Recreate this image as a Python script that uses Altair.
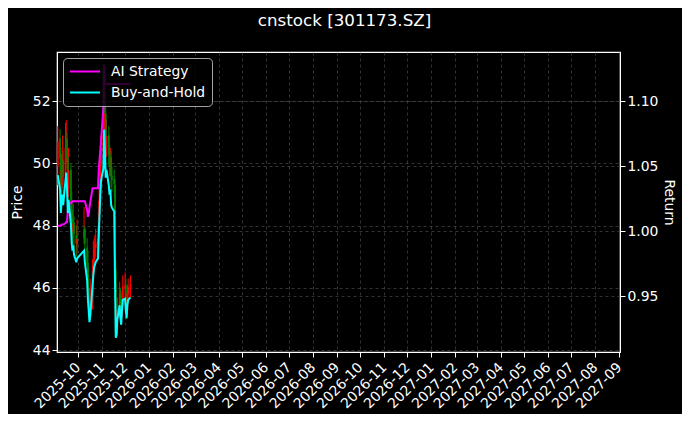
import altair as alt
import pandas as pd

dates = [
    "2025-09-05", "2025-09-08", "2025-09-09", "2025-09-10", "2025-09-11", "2025-09-12",
    "2025-09-15", "2025-09-16", "2025-09-17", "2025-09-18", "2025-09-19",
    "2025-09-22", "2025-09-23", "2025-09-24", "2025-09-25", "2025-09-26",
    "2025-09-29", "2025-09-30",
    "2025-10-09", "2025-10-10", "2025-10-13", "2025-10-14", "2025-10-15", "2025-10-16",
    "2025-10-17", "2025-10-20", "2025-10-21", "2025-10-22", "2025-10-23", "2025-10-24",
    "2025-10-27", "2025-10-28", "2025-10-29", "2025-10-30", "2025-10-31",
    "2025-11-03", "2025-11-04", "2025-11-05", "2025-11-06", "2025-11-07",
    "2025-11-10", "2025-11-11", "2025-11-12", "2025-11-13", "2025-11-14",
    "2025-11-17", "2025-11-18", "2025-11-19", "2025-11-20", "2025-11-21",
    "2025-11-24", "2025-11-25", "2025-11-26", "2025-11-27", "2025-11-28",
    "2025-12-01", "2025-12-02", "2025-12-03", "2025-12-04", "2025-12-05", "2025-12-08",
]

opens = [49.9, 50.8, 50.2, 49.2, 49.6, 50.1, 49.6, 50.4, 50.8, 50.2, 49.2,
         49.8, 48.8, 48.2, 47.8, 48.1, 47.7, 47.4,
         47.6, 47.9, 47.3, 46.8, 46.0, 45.6, 45.1, 45.5, 46.5, 46.9, 47.3, 47.3,
         47.4, 47.6, 48.4, 49.1, 49.9,
         50.4, 51.0, 52.3, 51.6, 50.5, 50.9, 50.3, 49.9, 50.2, 49.6,
         49.5, 49.3, 46.6, 44.6, 44.7, 45.3, 45.8, 45.3, 45.1, 45.6,
         46.0, 46.1, 45.6, 45.3, 45.8, 46.0]
highs = [51.2, 51.1, 50.5, 50.3, 50.9, 50.4, 51.3, 51.4, 51.0, 50.4, 50.5,
         50.0, 49.1, 48.5, 48.7, 48.3, 48.0, 48.2,
         48.6, 48.0, 47.6, 47.2, 46.4, 46.0, 46.3, 46.9, 47.5, 47.6, 47.7, 47.9,
         48.0, 48.8, 49.5, 50.4, 50.9,
         51.5, 53.1, 52.6, 51.9, 51.4, 51.2, 50.6, 50.5, 50.4, 49.9,
         49.8, 49.5, 46.9, 45.3, 45.7, 46.2, 46.0, 45.6, 45.9, 46.4,
         46.5, 46.3, 45.8, 46.1, 46.3, 46.4]
lows = [49.3, 49.6, 48.7, 48.9, 49.3, 49.0, 49.4, 50.0, 49.8, 48.8, 48.9,
        48.4, 47.5, 47.4, 47.6, 47.2, 47.0, 47.1,
        47.4, 47.0, 46.4, 45.7, 45.2, 44.9, 45.0, 45.3, 46.3, 46.6, 46.9, 47.0,
        47.1, 47.4, 48.1, 48.9, 49.5,
        50.0, 50.7, 51.2, 50.2, 50.2, 49.9, 49.6, 49.6, 49.2, 49.1,
        48.9, 46.4, 44.4, 44.4, 44.5, 45.1, 45.0, 44.8, 45.0, 45.4,
        45.7, 45.4, 45.0, 45.1, 45.6, 45.7]
closes = [50.69, 50.16, 49.28, 49.77, 49.96, 49.57, 50.50, 50.79, 50.16, 49.28, 49.77,
          48.84, 48.16, 47.87, 48.07, 47.73, 47.43, 47.58,
          47.87, 47.43, 46.75, 46.02, 45.64, 45.20, 45.44, 46.56, 46.95, 47.24, 47.34, 47.43,
          47.58, 48.45, 49.18, 49.96, 50.50,
          50.93, 52.39, 51.61, 50.59, 50.88, 50.30, 49.96, 50.16, 49.57, 49.47,
          49.33, 46.75, 44.61, 44.71, 45.30, 45.83, 45.34, 45.10, 45.64, 46.02,
          46.07, 45.64, 45.34, 45.83, 46.02, 46.12]

ai_strategy = [1.004, 1.004, 1.004, 1.005, 1.005, 1.005, 1.006, 1.007, 1.007, 1.016, 1.020,
               1.022, 1.022, 1.023, 1.023, 1.023, 1.023, 1.023,
               1.023, 1.023, 1.016, 1.011, 1.013, 1.018, 1.022, 1.033, 1.033, 1.033, 1.033, 1.033,
               1.033, 1.047, 1.055, 1.062, 1.070,
               1.095, 1.128, 1.113, 1.113, 1.113, 1.113, 1.113, 1.113, 1.113, 1.113,
               1.113, 1.113, 1.113, 1.113, 1.113, 1.113, 1.113, 1.113, 1.113, 1.113,
               1.113, 1.113, 1.113, 1.113, 1.113, 1.113]
buy_hold = [1.043, 1.032, 1.014, 1.024, 1.028, 1.020, 1.039, 1.045, 1.032, 1.014, 1.024,
            1.005, 0.991, 0.985, 0.989, 0.982, 0.976, 0.979,
            0.985, 0.976, 0.962, 0.947, 0.939, 0.930, 0.935, 0.958, 0.966, 0.972, 0.974, 0.976,
            0.979, 0.997, 1.012, 1.028, 1.039,
            1.048, 1.078, 1.062, 1.041, 1.047, 1.035, 1.028, 1.032, 1.020, 1.018,
            1.015, 0.962, 0.918, 0.920, 0.932, 0.943, 0.933, 0.928, 0.939, 0.947,
            0.948, 0.939, 0.933, 0.943, 0.947, 0.949]

series_names = ["AI Strategy", "Buy-and-Hold"]
series_colors = ["#ff00ff", "#00ffff"]

FONT = "DejaVu Sans"
FS = 13.9

stamps = [d + "T00:00:00" for d in dates]
price_df = pd.DataFrame({"date": stamps, "open": opens, "high": highs,
                         "low": lows, "close": closes})
ret_df = pd.concat([
    pd.DataFrame({"date": stamps, "series": series_names[0], "value": ai_strategy}),
    pd.DataFrame({"date": stamps, "series": series_names[1], "value": buy_hold}),
])

x_enc = alt.X(
    "date:T",
    scale=alt.Scale(domain=[alt.DateTime(year=2025, month=9, date=4),
                            alt.DateTime(year=2027, month=9, date=2)],
                    nice=False, padding=0),
    axis=alt.Axis(title=None, format="%Y-%m", tickCount={"interval": "month", "step": 1},
                  labelAngle=-45, labelAlign="right", labelBaseline="middle",
                  labelOverlap=False, labelPadding=8, grid=True),
)

price_scale = alt.Scale(domain=[43.94, 53.58], nice=False, zero=False)
ret_scale = alt.Scale(domain=[0.907, 1.1377], nice=False, zero=False)

candle_color = alt.condition(alt.datum.close >= alt.datum.open,
                             alt.value("#ff0000"), alt.value("#008000"))

base = alt.Chart(price_df).encode(x=x_enc)
wick = base.mark_rule(strokeWidth=1).encode(
    y=alt.Y("low:Q", scale=price_scale,
            axis=alt.Axis(title="Price", values=[44, 46, 48, 50, 52], format="d",
                          grid=True, titlePadding=8)),
    y2="high:Q",
    color=candle_color,
)
body = base.mark_bar(size=1.8).encode(
    y=alt.Y("open:Q", scale=price_scale),
    y2="close:Q",
    color=candle_color,
)

lines = alt.Chart(ret_df).mark_line(strokeWidth=2).encode(
    x=x_enc,
    y=alt.Y("value:Q", scale=ret_scale,
            axis=alt.Axis(title="Return", orient="right", values=[0.95, 1.0, 1.05, 1.10],
                          format=".2f", grid=True, titlePadding=4)),
    color=alt.Color("series:N",
                    scale=alt.Scale(domain=series_names, range=series_colors),
                    legend=alt.Legend(title=None, orient="none", legendX=6, legendY=6,
                                      fillColor="rgba(0,0,0,0.8)",
                                      strokeColor="rgba(204,204,204,0.8)",
                                      cornerRadius=4, padding=6, symbolType="stroke",
                                      symbolSize=900, symbolStrokeWidth=2, clipHeight=15,
                                      labelFontSize=FS, labelFont=FONT, labelColor="white",
                                      labelOffset=10, rowPadding=6)),
)

chart = alt.layer(alt.layer(wick, body), lines).resolve_scale(
    y="independent"
).properties(
    width=563,
    height=300,
    title=alt.TitleParams("cnstock [301173.SZ]", color="white", fontSize=16.7,
                          fontWeight="normal", font=FONT, offset=22, dx=6),
    autosize=alt.AutoSizeParams(type="none"),
    padding={"left": 49, "top": 44, "right": 62, "bottom": 62},
    background="black",
).configure_view(
    stroke="white", strokeWidth=1.2, fill="black"
).configure_axis(
    labelFont=FONT, labelFontSize=FS, labelColor="white",
    titleFont=FONT, titleFontSize=FS, titleColor="white", titleFontWeight="normal",
    tickColor="white", tickSize=5, domainColor="white",
    gridColor="#555555", gridDash=[3, 3], gridWidth=0.6,
)

chart.save("out.html", embed_options={"renderer": "svg", "actions": False})
